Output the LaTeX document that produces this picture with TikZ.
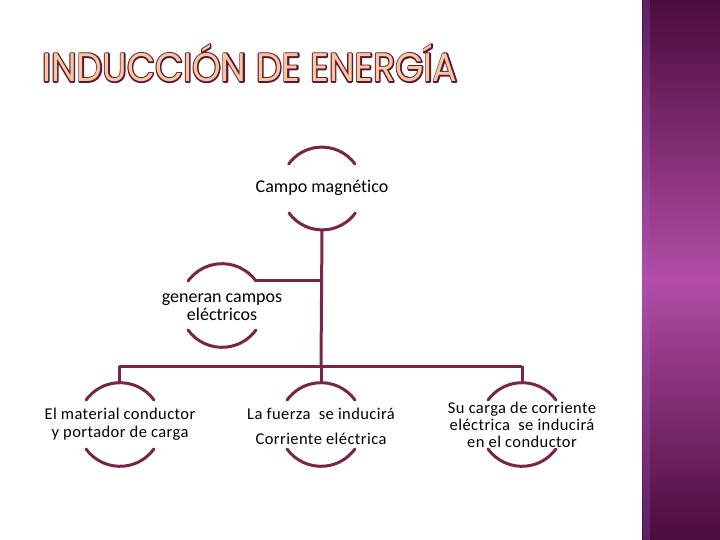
\documentclass[tikz,border=0pt]{standalone}
\usepackage{fontspec}
\setmainfont{Carlito}[Ligatures=NoCommon]
\newfontfamily\titlefont{Poppins}
\newfontfamily\spacedfont{Carlito}[LetterSpace=2.5,Ligatures=NoCommon]
\definecolor{linec}{HTML}{7A2448}
\definecolor{titledark}{HTML}{5A1838}
\definecolor{titlefill}{HTML}{F8C89C}
\definecolor{sidetop}{HTML}{4A0C3C}
\definecolor{sidemid}{HTML}{B24CA6}
\newcommand\outlinedtext[1]{\special{pdf:literal 2 Tr 0.7 w 1 j}#1\special{pdf:literal 0 Tr 0.4 w}}
\begin{document}
\begin{tikzpicture}[x=1pt,y=-1pt,
  conn/.style={draw=linec,line width=3pt},
  arcs/.style={draw=linec,line width=3pt,line cap=round},
  lbl/.style={align=center,inner sep=0pt,text=black,font=\fontsize{18}{18}\selectfont},
  lblsmall/.style={align=center,inner sep=0pt,text=black,font=\spacedfont\fontsize{16.5}{17}\selectfont}]
\useasboundingbox (0,0) rectangle (720,540);
\fill[white] (0,0) rectangle (720,540);
% side bar
\shade[top color=sidetop,bottom color=sidemid] (642,0) rectangle (720,280);
\shade[top color=sidemid,bottom color=sidetop] (642,280) rectangle (720,540);
\fill[sidemid!70!blue!80!white,opacity=0.25] (643,0) rectangle (650,540);
% title: dark outline underneath, light fill on top
\node[anchor=south west,inner sep=0pt,text=titledark] (tdark) at (42,82)
  {\resizebox{415pt}{37pt}{\titlefont\outlinedtext{INDUCCIÓN DE ENERGÍA}}};
\node[anchor=south west,inner sep=0pt,text=titlefill] (title) at (42,82)
  {\resizebox{415pt}{37pt}{\titlefont INDUCCIÓN DE ENERGÍA}};
% Top node
\node[lbl] (campo) at (322,188) {Campo magnético};
\draw[arcs] (355,164) arc[start angle=-36,end angle=-144,radius=41];
\draw[arcs] (289,213) arc[start angle=144,end angle=36,radius=41];
\coordinate (cbot) at (322,230);
% assistant node
\node[lbl] (gen) at (222,307) {generan campos\\eléctricos};
\draw[arcs] (256,281) arc[start angle=-36,end angle=-144,radius=42];
\draw[arcs] (188,330) arc[start angle=144,end angle=36,radius=42];
\coordinate (genr) at (256,280);
% bottom nodes
\node[lblsmall] (mat) at (120,424) {El material conductor\\[1pt]y portador de carga};
\draw[arcs] (154,400) arc[start angle=-36,end angle=-144,radius=42];
\draw[arcs] (86,449) arc[start angle=144,end angle=36,radius=42];
\node[lblsmall] (fue) at (321,426) {La fuerza\ \ se inducirá\\[8pt]Corriente eléctrica};
\draw[arcs] (355,400) arc[start angle=-36,end angle=-144,radius=42];
\draw[arcs] (287,449) arc[start angle=144,end angle=36,radius=42];
\node[lblsmall] (car) at (522,425) {Su carga de corriente\\eléctrica\ \ se inducirá\\en el conductor};
\draw[arcs] (556,400) arc[start angle=-36,end angle=-144,radius=42];
\draw[arcs] (488,449) arc[start angle=144,end angle=36,radius=42];
% connectors
\coordinate (bl) at (119,366);
\coordinate (bm) at (321,366);
\coordinate (br) at (522,366);
\coordinate (trunkgen) at (321,280);
\draw[conn] (cbot) -- (bm);
\draw[conn] (genr) -- (trunkgen);
\draw[conn] (bl) -- (br);
\draw[conn] (bl) -- (119,384);
\draw[conn] (bm) -- (321,384);
\draw[conn] (br) -- (522,384);
\end{tikzpicture}
\end{document}
